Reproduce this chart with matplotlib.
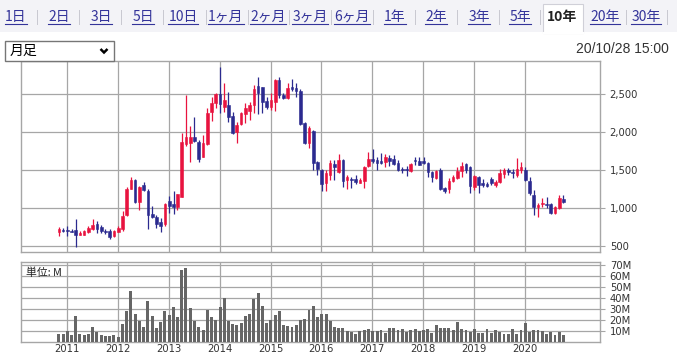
import matplotlib
matplotlib.use('Agg')
import matplotlib.pyplot as plt
import matplotlib.dates as mdates
from matplotlib.lines import Line2D
from matplotlib.patches import Rectangle
import numpy as np
import pandas as pd

# ---------------- data ----------------
tabs = ['1日', '2日', '3日', '5日', '10日', '1ヶ月', '2ヶ月', '3ヶ月', '6ヶ月',
        '1年', '2年', '3年', '5年', '10年', '20年', '30年']
selected_tab = '10年'
period_label = '月足'
timestamp = '20/10/28 15:00'
unit_label = '単位: M'

start_month = '2010-11-01'
opens = [684, 710, 706, 701, 710, 650, 649, 684, 719, 789, 745, 701, 693, 636, 684, 719,
         905, 1254, 1368, 1083, 1307, 1228, 915, 885, 815, 784, 1091, 1056, 1013, 1148,
         1842, 1859, 1938, 1872, 1675, 1841, 2267, 2377, 2495, 2324, 2355, 2210, 1995, 2105,
         2236, 2280, 2355, 2605, 2587, 2412, 2324, 2399, 2684, 2486, 2442, 2587, 2578, 2543,
         2122, 1859, 2012, 1605, 1499, 1333, 1434, 1578, 1477, 1631, 1368, 1385, 1381, 1333,
         1359, 1552, 1640, 1631, 1622, 1609, 1657, 1640, 1587, 1517, 1512, 1486, 1631, 1622,
         1622, 1596, 1477, 1390, 1499, 1258, 1245, 1359, 1390, 1490, 1578, 1534, 1271, 1411,
         1333, 1315, 1381, 1302, 1346, 1447, 1499, 1477, 1434, 1499, 1499, 1359, 1170, 1008,
         1052, 1052, 1047, 929, 1000, 1113]
highs = [754, 737, 758, 719, 855, 700, 710, 763, 855, 833, 772, 719, 719, 710, 763, 965,
         1272, 1412, 1377, 1289, 1342, 1245, 1020, 907, 872, 1069, 1157, 1223, 1188, 1991,
         2486, 2078, 2201, 1894, 1960, 2311, 2456, 2508, 2859, 2640, 2530, 2267, 2135, 2267,
         2385, 2399, 2618, 2728, 2596, 2456, 2508, 2693, 2719, 2508, 2640, 2693, 2640, 2561,
         2135, 2078, 2026, 1618, 1508, 1499, 1631, 1631, 1705, 1640, 1434, 1411, 1434, 1390,
         1552, 1741, 1771, 1675, 1719, 1710, 1697, 1697, 1631, 1543, 1552, 1587, 1675, 1675,
         1666, 1609, 1486, 1499, 1521, 1280, 1390, 1434, 1543, 1609, 1587, 1552, 1434, 1420,
         1376, 1346, 1411, 1368, 1508, 1521, 1521, 1508, 1653, 1609, 1543, 1411, 1236, 1061,
         1126, 1148, 1069, 1026, 1170, 1170]
lows = [631, 684, 631, 688, 491, 640, 640, 666, 710, 675, 666, 658, 587, 620, 684, 701,
        890, 1245, 1061, 973, 1228, 719, 870, 740, 688, 758, 938, 925, 978, 1140,
        1815, 1609, 1872, 1609, 1666, 1828, 2149, 2311, 2245, 2267, 2135, 1973, 1850, 2092,
        2122, 2157, 2245, 2236, 2245, 2302, 2289, 2280, 2442, 2429, 2429, 2543, 2464, 2092,
        1841, 1784, 1499, 1434, 1227, 1227, 1368, 1368, 1455, 1271, 1245, 1258, 1315, 1324,
        1258, 1543, 1587, 1499, 1578, 1543, 1552, 1565, 1490, 1464, 1420, 1473, 1565, 1561,
        1578, 1403, 1341, 1376, 1236, 1192, 1192, 1346, 1376, 1411, 1455, 1201, 1236, 1201,
        1280, 1280, 1302, 1271, 1333, 1390, 1434, 1390, 1411, 1455, 1359, 1170, 907, 876,
        1017, 995, 920, 920, 982, 1069]
closes = [728, 697, 693, 688, 649, 665, 701, 737, 780, 728, 701, 679, 614, 697, 737, 899,
          1250, 1368, 1083, 1272, 1237, 903, 885, 793, 762, 1056, 1026, 1017, 1179, 1872,
          1929, 1929, 1885, 1644, 1850, 2254, 2385, 2495, 2364, 2421, 2201, 1991, 2092, 2245,
          2311, 2355, 2561, 2517, 2399, 2324, 2421, 2684, 2486, 2451, 2574, 2565, 2543, 2105,
          1859, 2052, 1596, 1508, 1315, 1455, 1587, 1543, 1631, 1359, 1411, 1368, 1341, 1368,
          1543, 1649, 1622, 1596, 1596, 1666, 1622, 1578, 1499, 1499, 1495, 1578, 1618, 1569,
          1587, 1477, 1403, 1490, 1245, 1227, 1359, 1411, 1490, 1552, 1499, 1289, 1420, 1302,
          1302, 1293, 1333, 1346, 1464, 1499, 1477, 1455, 1508, 1534, 1368, 1192, 1017, 1039,
          1069, 1034, 929, 1017, 1126, 1082]
volumes_m = [7.3, 7.3, 10, 6.4, 24, 7.3, 6.7, 7.3, 13.8, 9.2,
             6.1, 5.5, 5.5, 6.4, 4.6, 16.5, 28.4, 46.8, 25.7, 19.6,
             13.8, 37.6, 23.9, 12.8, 18.3, 28.4, 24.8, 32.1, 22.9, 66,
             67.9, 31.2, 19.3, 13.8, 11, 29.4, 22.9, 20.2, 32.1, 40.4,
             19.3, 16.5, 15.6, 17.4, 23.9, 25.7, 39.4, 45, 33, 17.4,
             19.9, 24.8, 28.4, 15.6, 14.7, 13.8, 15.6, 20.2, 21.1, 29.4,
             33, 22.9, 25.7, 25.7, 19.3, 13.5, 12.8, 12.8, 10, 9.2,
             7.3, 10, 11, 11.9, 10, 10, 11, 8.3, 12.8, 12.8,
             11, 11.9, 9.2, 11, 11.9, 10, 11, 11.9, 8.3, 15.6,
             12.8, 12.8, 12.8, 11, 18.3, 11.9, 11, 9.2, 11.9, 8.3,
             8.3, 11.9, 8.3, 11, 9.2, 7.3, 7.3, 11.9, 7.3, 11,
             17.4, 9.2, 11, 11, 10, 7.3, 9.2, 6.4, 9.2, 6.4]
price_ticks = [500, 1000, 1500, 2000, 2500]
volume_ticks = [10, 20, 30, 40, 50, 60, 70]
years = list(range(2011, 2021))

# ---------------- figure ----------------
W, H = 677, 355
fig = plt.figure(figsize=(W / 100, H / 100), dpi=100)
fig.patch.set_facecolor('white')
CJK = ['Noto Sans CJK JP', 'DejaVu Sans']


def fx(x):
    return x / W


def fy(y):
    return 1 - y / H


# tab bar
fig.add_artist(Rectangle((0, fy(32)), 1, fy(0) - fy(32), transform=fig.transFigure,
                         facecolor='#f3f3f7', edgecolor='none', zorder=0))
fig.add_artist(Rectangle((fx(543), fy(32.5)), fx(583) - fx(543), fy(4) - fy(32.5),
                         transform=fig.transFigure, facecolor='white',
                         edgecolor='#d0d0d8', lw=0.8, zorder=1))
fig.add_artist(Line2D([fx(543.5), fx(582.5)], [fy(32.5), fy(32.5)], transform=fig.transFigure,
                      color='white', lw=1.5, zorder=2))
tab_x = [16, 59, 101, 143, 183, 226, 268, 310, 352, 395, 436, 479, 520, 562, 605, 646]
sep_x = [37, 79, 121, 163, 206, 248, 289, 331, 373, 415, 457, 499, 540, 626, 667]
for sx in sep_x:
    fig.add_artist(Line2D([fx(sx), fx(sx)], [fy(10), fy(24)], transform=fig.transFigure,
                          color='#c8c8d0', lw=0.7))
link_color = '#34349a'
tab_texts = []
for lab, tx in zip(tabs, tab_x):
    sel = lab == selected_tab
    t = fig.text(fx(tx), fy(17), lab, ha='center', va='center', fontsize=10,
                 family=CJK, color='#222222' if sel else link_color,
                 fontweight='bold' if sel else 'normal', zorder=3)
    tab_texts.append((t, sel))

fig.canvas.draw()
rend = fig.canvas.get_renderer()
for t, sel in tab_texts:
    if sel:
        continue
    bb = t.get_window_extent(rend)
    fig.add_artist(Line2D([bb.x0 / W, bb.x1 / W], [fy(23.5), fy(23.5)],
                          transform=fig.transFigure, color=link_color, lw=0.8))

# dropdown
fig.add_artist(Rectangle((fx(5.5), fy(61)), fx(114) - fx(5.5), fy(41) - fy(61),
                         transform=fig.transFigure, facecolor='white',
                         edgecolor='#767676', lw=1.0))
fig.text(fx(10), fy(51), period_label, ha='left', va='center', fontsize=10,
         family=CJK, color='black')
fig.add_artist(Line2D([fx(100.5), fx(104), fx(107.5)], [fy(49), fy(52.5), fy(49)],
                      transform=fig.transFigure, color='black', lw=1.8,
                      solid_capstyle='butt', solid_joinstyle='miter'))

# timestamp
fig.text(fx(669), fy(49), timestamp, ha='right', va='center', fontsize=10,
         family=['Liberation Sans', 'DejaVu Sans'], color='#333333')

# ---------------- axes ----------------
dates = pd.date_range(start_month, periods=len(closes), freq='MS')
xd = mdates.date2num(dates) + 3
xlim = (mdates.date2num(pd.Timestamp('2010-02-05')), mdates.date2num(pd.Timestamp('2021-06-23')))
year_x = mdates.date2num(pd.to_datetime([f'{y}-01-01' for y in years]))

grid_c = '#a6a6a6'
ax = fig.add_axes([fx(21), fy(252), (600 - 21) / W, (252 - 61) / H])
axv = fig.add_axes([fx(21), fy(342), (600 - 21) / W, (342 - 262) / H])

for a in (ax, axv):
    a.set_xlim(*xlim)
    a.set_axisbelow(True)
    for s in a.spines.values():
        s.set_color(grid_c)
        s.set_linewidth(1.0)
    a.set_xticks(year_x)
    a.grid(True, color=grid_c, lw=0.9)
    a.yaxis.tick_right()
    a.tick_params(axis='y', direction='out', length=3.8, width=0.8, color=grid_c,
                  pad=3.2, labelsize=7.2, labelcolor='#333333')
    a.tick_params(axis='x', length=0, labelsize=7.2, labelcolor='#333333', pad=1.2)

ax.set_ylim(421, 2934)
ax.set_yticks(price_ticks)
ax.set_yticklabels([f'{v:,}' for v in price_ticks])
ax.tick_params(axis='x', labelbottom=False)

o = np.array(opens, float)
c = np.array(closes, float)
hi = np.array(highs, float)
lo = np.array(lows, float)
up = c >= o
red = '#e8133f'
blue = '#2b2a8f'
cols = np.where(up, red, blue)
ax.vlines(xd, lo, hi, colors=cols, lw=0.9, zorder=3)
ax.bar(xd, np.abs(c - o), bottom=np.minimum(o, c), width=19, color=cols,
       edgecolor=cols, lw=0.4, zorder=4)

axv.set_ylim(0, 73)
axv.set_yticks(volume_ticks)
axv.set_yticklabels([f'{v}M' for v in volume_ticks])
axv.set_xticklabels([str(y) for y in years])
axv.bar(xd, volumes_m, width=21, color='#666666', zorder=3)
axv.text(fx(26) * 0 + 0.0087, 0.86, unit_label, transform=axv.transAxes, ha='left',
         va='center', fontsize=7.8, family=CJK, color='#222222')

fig.savefig('out.png', dpi=100, facecolor='white')
